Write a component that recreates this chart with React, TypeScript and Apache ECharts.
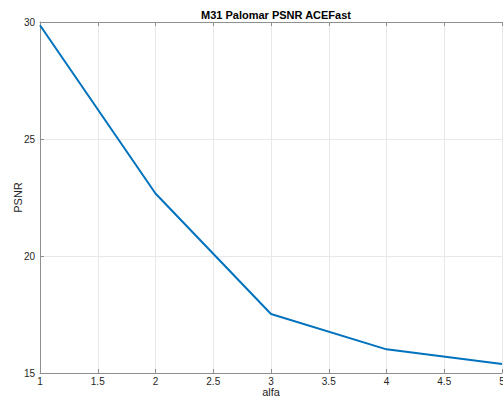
import React, { useEffect, useRef } from "react";
import * as echarts from "echarts";

const alfa = [1, 2, 3, 4, 5];
const psnr = [29.86, 22.67, 17.52, 16.01, 15.38];
const xTicks = { min: 1, max: 5, interval: 0.5 };
const yTicks = { min: 15, max: 30, interval: 5 };

export default function App() {
  const ref = useRef<HTMLDivElement>(null);
  useEffect(() => {
    const chart = echarts.init(ref.current!, null, { renderer: "svg" });
    const font = "Helvetica, 'Liberation Sans', Arial, sans-serif";
    const axisColor = "#8f8f8f";
    chart.setOption({
      animation: false,
      backgroundColor: "#ffffff",
      title: {
        text: "M31 Palomar PSNR ACEFast",
        left: 271,
        top: 4,
        textAlign: "center",
        textStyle: { fontSize: 11, fontWeight: "bold", color: "#000", fontFamily: font },
      },
      grid: { left: 40, right: 1, top: 22, bottom: 23, containLabel: false, outerBoundsMode: "none" },
      xAxis: [
        {
          type: "value",
          min: xTicks.min,
          max: xTicks.max,
          interval: xTicks.interval,
          name: "alfa",
          nameLocation: "middle",
          nameGap: 13,
          nameMoveOverlap: false,
          nameTextStyle: { fontSize: 11, color: "#262626", fontFamily: font, lineHeight: 11 },
          axisLine: { show: true, lineStyle: { color: axisColor, width: 1 } },
          axisTick: { show: true, inside: true, length: 4, lineStyle: { color: axisColor } },
          axisLabel: { fontSize: 10, color: "#262626", fontFamily: font, margin: 3, lineHeight: 10 },
          splitLine: { show: true, lineStyle: { color: "#e8e8e8", width: 1 } },
        },
        {
          type: "value",
          position: "top",
          min: xTicks.min,
          max: xTicks.max,
          interval: xTicks.interval,
          axisLine: { show: true, lineStyle: { color: axisColor, width: 1 } },
          axisTick: { show: true, inside: true, length: 4, lineStyle: { color: axisColor } },
          axisLabel: { show: false },
          splitLine: { show: false },
        },
      ],
      yAxis: {
        type: "value",
        min: yTicks.min,
        max: yTicks.max,
        interval: yTicks.interval,
        name: "PSNR",
        nameLocation: "middle",
        nameGap: 17,
        nameMoveOverlap: false,
        nameTextStyle: { fontSize: 11, color: "#262626", fontFamily: font },
        axisLine: { show: true, lineStyle: { color: axisColor, width: 1 } },
        axisTick: { show: true, inside: true, length: 4, lineStyle: { color: axisColor } },
        axisLabel: { fontSize: 10, color: "#262626", fontFamily: font, margin: 5 },
        splitLine: { show: true, lineStyle: { color: "#e8e8e8", width: 1 } },
      },
      series: [
        {
          type: "line",
          data: alfa.map((a, i) => [a, psnr[i]]),
          showSymbol: false,
          symbol: "none",
          lineStyle: { color: "#0072BD", width: 2 },
          xAxisIndex: 0,
        },
      ],
    });
    return () => chart.dispose();
  }, []);
  return <div ref={ref} style={{ width: 503, height: 396, position: "absolute", left: 0, top: 0 }} />;
}
